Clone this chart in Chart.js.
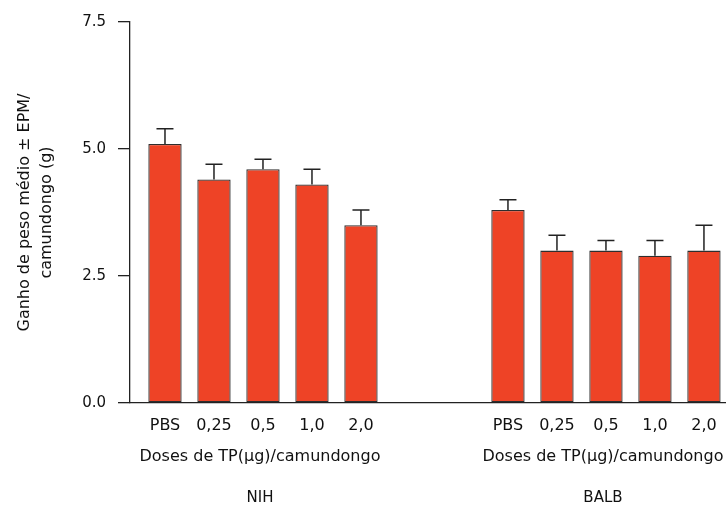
<!DOCTYPE html>
<html>
<head>
<meta charset="utf-8">
<script src="https://cdn.jsdelivr.net/npm/chart.js@4.4.0/dist/chart.umd.min.js"></script>
<style>
  html, body { margin: 0; padding: 0; background: #fff; }
  #wrap { width: 726px; height: 506px; }
</style>
</head>
<body>
<div id="wrap"><canvas id="grafico"></canvas></div>
<script>
// datos
const doseLabels = ["PBS", "0,25", "0,5", "1,0", "2,0"];
const groupNames = ["NIH", "BALB"];
const nihMeans = [5.1, 4.4, 4.6, 4.3, 3.5];
const nihErrors = [0.3, 0.3, 0.2, 0.3, 0.3];
const balbMeans = [3.8, 3.0, 3.0, 2.9, 3.0];
const balbErrors = [0.2, 0.3, 0.2, 0.3, 0.5];
const yTicks = [0, 2.5, 5, 7.5];
const xTitle = "Doses de TP(µg)/camundongo";
const yTitle = ["Ganho de peso médio ± EPM/", "camundongo (g)"];

// posiciones de categoria: NIH 0..4, hueco de 2, BALB 7..11
const groupStart = [0, doseLabels.length + 2];
const allMeans = [nihMeans, balbMeans];
const allErrors = [nihErrors, balbErrors];

const points = [];
const errs = [];
groupStart.forEach((start, g) => {
  allMeans[g].forEach((v, i) => {
    points.push({ x: start + i, y: v });
    errs.push(allErrors[g][i]);
  });
});
const tickPositions = points.map(p => p.x);

const FONT = "DejaVu Sans";
const INK = "#222";

// barras de error
const errorBars = {
  id: "errorBars",
  afterDatasetsDraw(chart) {
    const { ctx, scales: { y } } = chart;
    const meta = chart.getDatasetMeta(0);
    ctx.save();
    ctx.strokeStyle = INK;
    ctx.lineWidth = 1.5;
    meta.data.forEach((bar, i) => {
      const top = y.getPixelForValue(points[i].y + errs[i]);
      ctx.beginPath();
      ctx.moveTo(bar.x, bar.y);
      ctx.lineTo(bar.x, top);
      ctx.moveTo(bar.x - 8.5, top);
      ctx.lineTo(bar.x + 8.5, top);
      ctx.stroke();
    });
    ctx.restore();
  }
};

// titulos de grupo bajo el eje x
const groupTitles = {
  id: "groupTitles",
  afterDraw(chart) {
    const { ctx, scales: { x } } = chart;
    ctx.save();
    ctx.fillStyle = "#111";
    ctx.textAlign = "center";
    ctx.textBaseline = "middle";
    groupStart.forEach((start, g) => {
      const cx = x.getPixelForValue(start + (doseLabels.length - 1) / 2);
      ctx.font = "16px '" + FONT + "'";
      ctx.fillText(xTitle, cx - 3, x.top + 54);
      ctx.font = "15px '" + FONT + "'";
      ctx.fillText(groupNames[g], cx - 3, x.top + 95);
    });
    ctx.restore();
  }
};

const ctx = document.getElementById("grafico").getContext("2d");
new Chart(ctx, {
  type: "bar",
  data: {
    datasets: [{
      data: points,
      backgroundColor: "#ee4326",
      borderColor: "#2e2e2e",
      borderWidth: 1.3,
      borderSkipped: false,
      categoryPercentage: 1,
      barPercentage: 0.68,
    }]
  },
  options: {
    responsive: true,
    maintainAspectRatio: false,
    animation: false,
    layout: { padding: { top: 22, right: 0, left: 0, bottom: 0 } },
    plugins: {
      legend: { display: false },
      tooltip: { enabled: false },
    },
    scales: {
      x: {
        type: "linear",
        offset: false,
        bounds: "data",
        min: -0.714,
        max: 11.45,
        afterBuildTicks: (scale) => {
          scale.ticks = tickPositions.map(v => ({ value: v }));
        },
        afterFit: (scale) => { scale.height = 103; },
        grid: { display: false, drawTicks: true, tickLength: 13, offset: false },
        border: { display: true, color: INK, width: 1.3 },
        ticks: {
          autoSkip: false,
          maxRotation: 0,
          padding: 0,
          color: "#111",
          font: { family: FONT, size: 16 },
          callback: (v) => doseLabels[(v >= groupStart[1] ? v - groupStart[1] : v)],
        },
      },
      y: {
        min: 0,
        max: 7.5,
        afterBuildTicks: (scale) => {
          scale.ticks = yTicks.map(v => ({ value: v }));
        },
        afterFit: (scale) => { scale.width = 130; },
        grid: { drawOnChartArea: false, drawTicks: true, tickLength: 12, color: INK, lineWidth: 1.3 },
        border: { display: true, color: INK, width: 1.3 },
        ticks: {
          padding: 12,
          color: "#111",
          font: { family: FONT, size: 15 },
          callback: (v) => v.toFixed(1),
        },
        title: {
          display: true,
          text: yTitle,
          color: "#111",
          font: { family: FONT, size: 16, lineHeight: 1.375 },
          padding: { top: 14, bottom: 0 },
        },
      },
    },
  },
  plugins: [errorBars, groupTitles],
});
</script>
</body>
</html>
